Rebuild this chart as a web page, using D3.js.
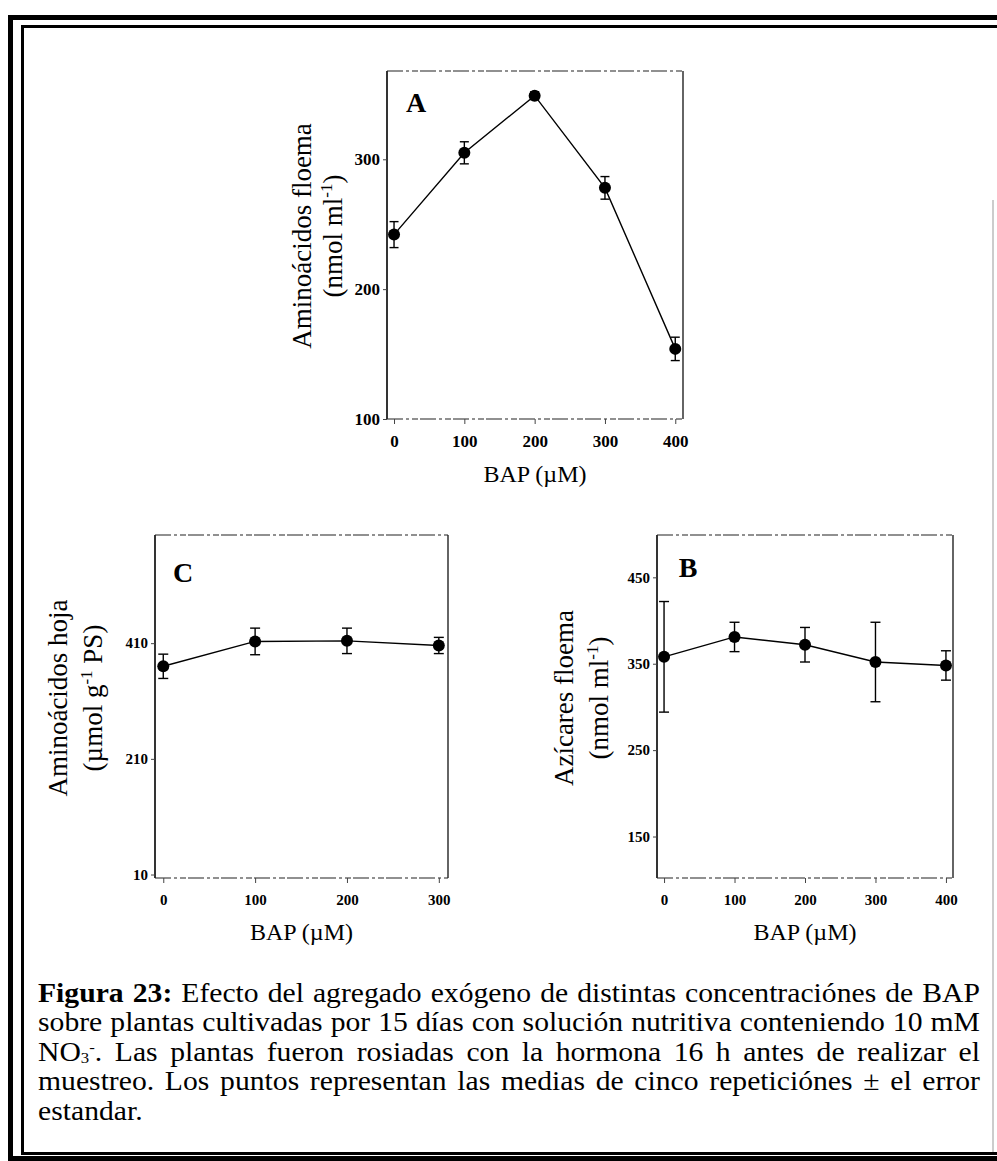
<!DOCTYPE html>
<html>
<head>
<meta charset="utf-8">
<script src="https://d3js.org/d3.v7.min.js"></script>
<style>
  body { margin: 0; background: #fff; }
  svg { display: block; }
  text { font-family: "Liberation Serif", "Times New Roman", serif; fill: #000; }
  .tick-label { font-weight: bold; }
</style>
</head>
<body>
<script>
  // data
  var bap5 = [0, 100, 200, 300, 400];
  var bap4 = [0, 100, 200, 300];
  // A: aminoacidos floema (nmol ml-1)
  var aminoFloema = [242, 305, 349, 278, 154];
  var aminoFloemaErr = [10, 8.5, 3, 8.7, 9];
  // C: aminoacidos hoja (umol g-1 PS)
  var aminoHoja = [370, 413, 414, 406];
  var aminoHojaErr = [21, 23, 22, 14];
  // B: azucares floema (nmol ml-1)
  var azucares = [358, 381, 372, 352, 348];
  var azucaresErr = [64, 17, 20, 46, 17];
  // tick labels
  var yTicksA = [100, 200, 300];
  var yTicksC = [10, 210, 410];
  var yTicksB = [150, 250, 350, 450];

  var width = 997, height = 1161;
  var svg = d3.select('body').append('svg')
    .attr('width', width)
    .attr('height', height);

  // page frame (double border, right side cut off in the scan)
  svg.append('path')
    .attr('d', 'M1000,17.5 H10.5 V1158.5 H1000')
    .attr('fill', 'none').attr('stroke', '#000').attr('stroke-width', 5);
  svg.append('path')
    .attr('d', 'M1000,26.5 H22.5 V1153.5 H1000')
    .attr('fill', 'none').attr('stroke', '#000').attr('stroke-width', 3);
  svg.append('line')
    .attr('x1', 993).attr('x2', 993).attr('y1', 200).attr('y2', 1152)
    .attr('stroke', '#aaa').attr('stroke-width', 1.2);

  function drawPanel(p) {
    var g = svg.append('g');
    var x = d3.scaleLinear().domain(p.xDomain).range([p.left, p.right]);
    var y = d3.scaleLinear().domain(p.yDomain).range([p.bottom, p.top]);

    // frame: solid sides, broken top/bottom like the scan
    g.append('line').attr('x1', p.left).attr('x2', p.left).attr('y1', p.top).attr('y2', p.bottom)
      .attr('stroke', '#000').attr('stroke-width', 1.6);
    g.append('line').attr('x1', p.right).attr('x2', p.right).attr('y1', p.top).attr('y2', p.bottom)
      .attr('stroke', '#111').attr('stroke-width', 1.3);
    [p.top, p.bottom].forEach(function(yy) {
      g.append('line').attr('x1', p.left).attr('x2', p.right).attr('y1', yy).attr('y2', yy)
        .attr('stroke', '#222').attr('stroke-width', 1.2)
        .attr('stroke-dasharray', '16,3,3,3,6,2');
    });

    // axes
    var yAxis = d3.axisLeft(y).tickValues(p.yTicks).tickSize(4).tickPadding(3);
    var xAxis = d3.axisBottom(x).tickValues(p.xValues).tickSize(5).tickPadding(8);
    var ya = g.append('g').attr('transform', 'translate(' + p.left + ',0)').call(yAxis);
    var xa = g.append('g').attr('transform', 'translate(0,' + p.bottom + ')').call(xAxis);
    [ya, xa].forEach(function(a) {
      a.select('.domain').remove();
      a.selectAll('line').attr('stroke', '#444').attr('stroke-width', 1);
      a.selectAll('text').attr('class', 'tick-label')
        .style('font-size', p.tickSize + 'px')
        .style('font-family', '"Liberation Serif", serif')
        .attr('fill', '#000');
    });
    xa.selectAll('text').attr('dy', '0.9em');

    // error bars
    var cap = p.cap;
    var eb = g.selectAll('.eb').data(p.values).enter().append('g');
    eb.append('line')
      .attr('x1', function(d, i) { return x(p.xValues[i]); })
      .attr('x2', function(d, i) { return x(p.xValues[i]); })
      .attr('y1', function(d, i) { return y(d + p.errors[i]); })
      .attr('y2', function(d, i) { return y(d - p.errors[i]); })
      .attr('stroke', '#000').attr('stroke-width', 1.4);
    [1, -1].forEach(function(s) {
      eb.append('line')
        .attr('x1', function(d, i) { return x(p.xValues[i]) - cap; })
        .attr('x2', function(d, i) { return x(p.xValues[i]) + cap; })
        .attr('y1', function(d, i) { return y(d + s * p.errors[i]); })
        .attr('y2', function(d, i) { return y(d + s * p.errors[i]); })
        .attr('stroke', '#000').attr('stroke-width', 1.4);
    });

    // line and points
    var line = d3.line()
      .x(function(d, i) { return x(p.xValues[i]); })
      .y(function(d) { return y(d); });
    g.append('path').datum(p.values)
      .attr('d', line)
      .attr('fill', 'none').attr('stroke', '#000').attr('stroke-width', 1.4);
    g.selectAll('.pt').data(p.values).enter().append('circle')
      .attr('cx', function(d, i) { return x(p.xValues[i]); })
      .attr('cy', function(d) { return y(d); })
      .attr('r', 6)
      .attr('fill', '#000');

    // panel letter
    g.append('text')
      .attr('x', p.letterX).attr('y', p.letterY)
      .attr('text-anchor', 'middle')
      .style('font-size', '28px').style('font-weight', 'bold')
      .text(p.letter);

    // x title
    g.append('text')
      .attr('x', (p.left + p.right) / 2 + p.xTitleShift).attr('y', p.xTitleY)
      .attr('text-anchor', 'middle')
      .style('font-size', '24px')
      .text('BAP (\u00b5M)');

    // y title, two rotated lines
    g.append('text')
      .attr('transform', 'translate(' + p.yTitleX1 + ',' + p.yTitleY + ') rotate(-90)')
      .attr('text-anchor', 'middle')
      .style('font-size', '27px')
      .text(p.yTitle1);
    var t2 = g.append('text')
      .attr('transform', 'translate(' + p.yTitleX2 + ',' + p.yTitleY + ') rotate(-90)')
      .attr('text-anchor', 'middle')
      .style('font-size', '27px');
    t2.append('tspan').text(p.yTitle2[0]);
    t2.append('tspan').attr('dy', -10).style('font-size', '17px').text('-1');
    t2.append('tspan').attr('dy', 10).text(p.yTitle2[1]);
  }

  drawPanel({
    left: 387, right: 683, top: 71, bottom: 419,
    xDomain: [-10, 411], yDomain: [100, 368],
    xValues: bap5, values: aminoFloema, errors: aminoFloemaErr,
    yTicks: yTicksA, tickSize: 17, cap: 4.5,
    letter: 'A', letterX: 416, letterY: 112,
    xTitleY: 482, xTitleShift: 0,
    yTitle1: 'Amino\u00e1cidos floema', yTitle2: ['(nmol ml', ')'],
    yTitleX1: 311, yTitleX2: 342, yTitleY: 236
  });

  drawPanel({
    left: 155, right: 448, top: 535, bottom: 878,
    xDomain: [-9, 310], yDomain: [4, 597],
    xValues: bap4, values: aminoHoja, errors: aminoHojaErr,
    yTicks: yTicksC, tickSize: 15, cap: 5,
    letter: 'C', letterX: 183, letterY: 582,
    xTitleY: 940, xTitleShift: 0,
    yTitle1: 'Amino\u00e1cidos hoja', yTitle2: ['(\u00b5mol g', ' PS)'],
    yTitleX1: 67, yTitleX2: 102, yTitleY: 698
  });

  drawPanel({
    left: 657, right: 953, top: 535, bottom: 878,
    xDomain: [-10, 410], yDomain: [102, 499],
    xValues: bap5, values: azucares, errors: azucaresErr,
    yTicks: yTicksB, tickSize: 15, cap: 5,
    letter: 'B', letterX: 688, letterY: 577,
    xTitleY: 940, xTitleShift: 0,
    yTitle1: 'Az\u00edcares floema', yTitle2: ['(nmol ml', ')'],
    yTitleX1: 573, yTitleX2: 608, yTitleY: 698
  });

  // caption, justified between two margins; glyphs a bit wide like the scan
  var capLeft = 38, capRight = 980, capSize = 26.5, capStretch = 1.12;
  var capLines = [
    { y: 1002, words: [[{t: 'Figura', b: 1}], [{t: '23:', b: 1}], 'Efecto', 'del', 'agregado', 'ex\u00f3geno', 'de', 'distintas', 'concentraci\u00f3nes', 'de', 'BAP'] },
    { y: 1031, words: 'sobre plantas cultivadas por 15 d\u00edas con soluci\u00f3n nutritiva conteniendo 10 mM'.split(' ') },
    { y: 1061, words: [[{t: 'NO'}, {t: '3', sub: 1}, {t: '-', sup: 1}, {t: '.', back: 1}], 'Las', 'plantas', 'fueron', 'rosiadas', 'con', 'la', 'hormona', '16', 'h', 'antes', 'de', 'realizar', 'el'] },
    { y: 1090, words: 'muestreo. Los puntos representan las medias de cinco repetici\u00f3nes \u00b1 el error'.split(' ') },
    { y: 1120, words: ['estandar.'], last: true }
  ];

  capLines.forEach(function(ln) {
    var nodes = ln.words.map(function(w) {
      var t = svg.append('text').style('font-size', capSize + 'px');
      if (typeof w === 'string') {
        t.text(w);
      } else {
        w.forEach(function(s) {
          var ts = t.append('tspan').text(s.t);
          if (s.b) ts.style('font-weight', 'bold');
          if (s.sub) ts.attr('dy', 2).style('font-size', '15px');
          if (s.sup) ts.attr('dy', -11).style('font-size', '15px');
          if (s.back) ts.attr('dy', 9);
        });
      }
      return t;
    });
    var widths = nodes.map(function(t) { return t.node().getComputedTextLength() * capStretch; });
    var total = d3.sum(widths);
    var gap = ln.last || nodes.length < 2 ? capSize * 0.25
      : (capRight - capLeft - total) / (nodes.length - 1);
    var cx = capLeft;
    nodes.forEach(function(t, i) {
      t.attr('transform', 'translate(' + cx + ',' + ln.y + ') scale(' + capStretch + ',1)');
      cx += widths[i] + gap;
    });
  });
</script>
</body>
</html>
